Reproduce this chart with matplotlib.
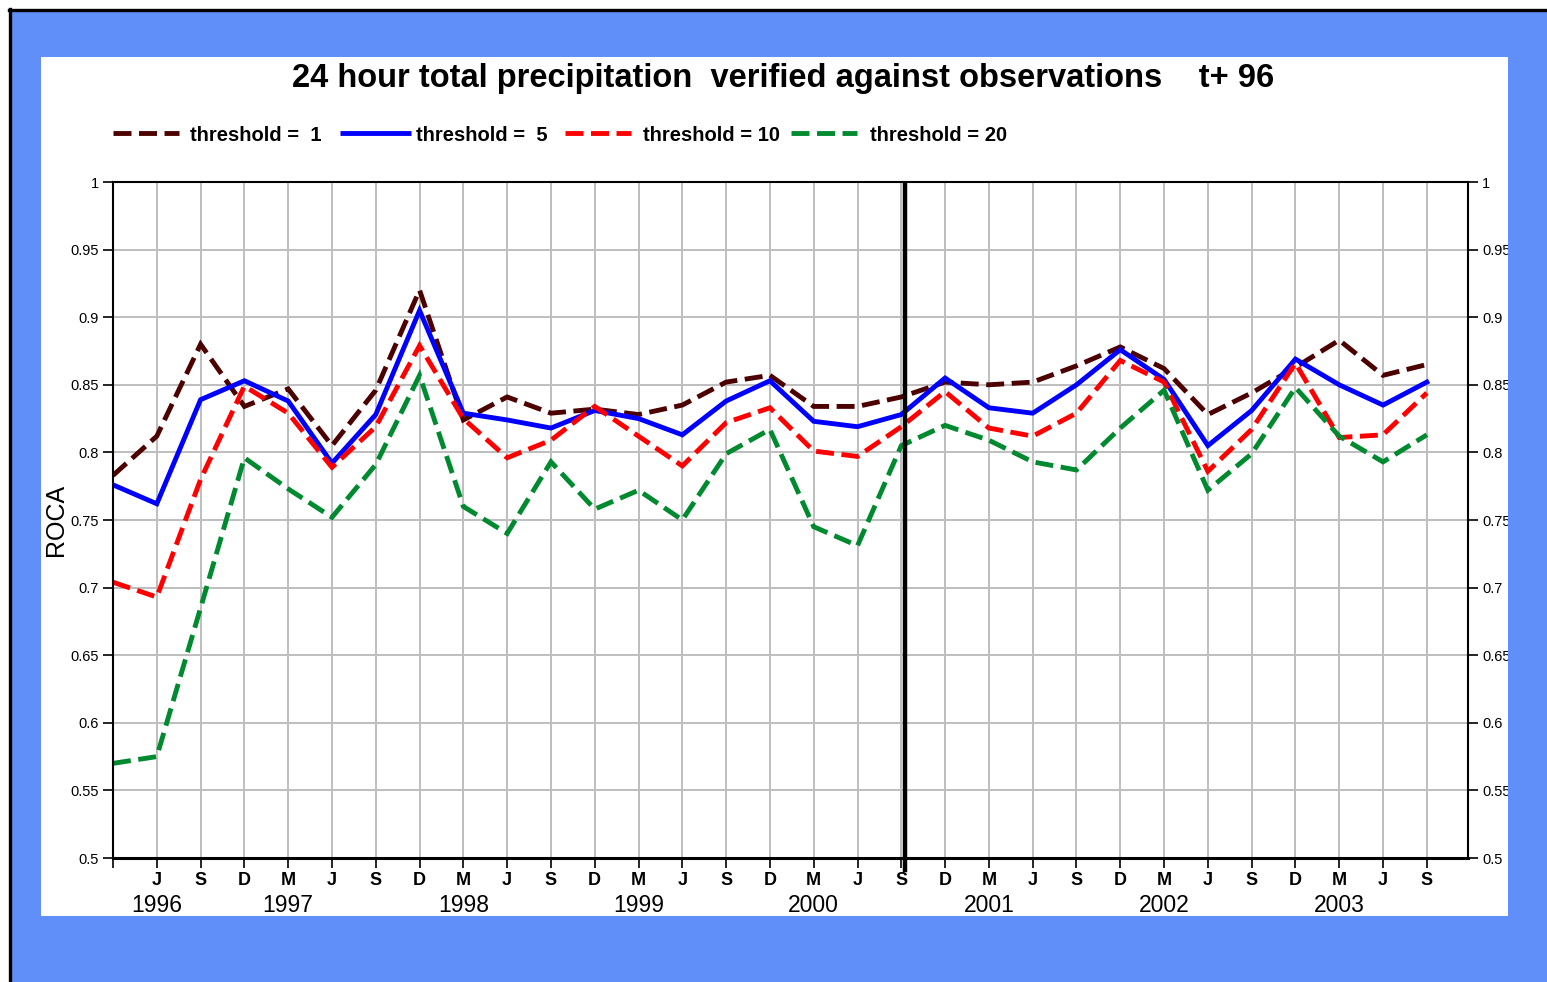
import matplotlib
matplotlib.use("Agg")
import matplotlib.pyplot as plt
from matplotlib.patches import Rectangle
from matplotlib.lines import Line2D
import matplotlib.transforms as mtransforms

plt.rcParams['font.family'] = ['Liberation Sans', 'DejaVu Sans']

# ---------------- data ----------------
month_labels = ['', 'J', 'S', 'D', 'M', 'J', 'S', 'D', 'M', 'J', 'S', 'D', 'M', 'J', 'S', 'D',
                'M', 'J', 'S', 'D', 'M', 'J', 'S', 'D', 'M', 'J', 'S', 'D', 'M', 'J', 'S']
year_labels = ['1996', '1997', '1998', '1999', '2000', '2001', '2002', '2003']
year_label_idx = [1, 4, 8, 12, 16, 20, 24, 28]

thr1 = [0.783, 0.812, 0.880, 0.834, 0.847, 0.805, 0.846, 0.920, 0.824, 0.841,
        0.829, 0.832, 0.828, 0.835, 0.852, 0.857, 0.834, 0.834, 0.841, 0.852,
        0.850, 0.852, 0.864, 0.878, 0.862, 0.828, 0.844, 0.863, 0.883, 0.857, 0.865]
thr5 = [0.776, 0.762, 0.839, 0.853, 0.838, 0.792, 0.828, 0.905, 0.829, 0.824,
        0.818, 0.831, 0.825, 0.813, 0.838, 0.853, 0.823, 0.819, 0.828, 0.855,
        0.833, 0.829, 0.850, 0.876, 0.854, 0.805, 0.831, 0.869, 0.850, 0.835, 0.852]
thr10 = [0.704, 0.693, 0.780, 0.849, 0.829, 0.789, 0.819, 0.879, 0.825, 0.796,
         0.809, 0.834, 0.812, 0.790, 0.822, 0.833, 0.801, 0.797, 0.819, 0.845,
         0.818, 0.812, 0.829, 0.868, 0.852, 0.786, 0.817, 0.866, 0.811, 0.813, 0.844]
thr20 = [0.570, 0.575, 0.685, 0.796, 0.773, 0.752, 0.791, 0.857, 0.760, 0.740,
         0.793, 0.758, 0.772, 0.750, 0.799, 0.817, 0.745, 0.731, 0.805, 0.820,
         0.809, 0.793, 0.787, 0.818, 0.846, 0.772, 0.799, 0.848, 0.812, 0.793, 0.813]
series = [thr1, thr5, thr10, thr20]
series_labels = ['threshold =  1', 'threshold =  5', 'threshold = 10', 'threshold = 20']
series_colors = ['#4D0000', '#0000FF', '#FF0000', '#008A30']
series_dashed = [True, False, True, True]
change_x = 18.08  # model change marker (vertical black line)

title = '24 hour total precipitation  verified against observations    t+ 96'

# ---------------- figure ----------------
W, H = 1547, 982
fig = plt.figure(figsize=(W / 100, H / 100), dpi=100)
fig.patch.set_facecolor('white')

BLUE = '#618FFA'
LW = 3.5
DASH = (3.7, 1.55)

def px_rect(x0, y0, x1, y1, **kw):
    return Rectangle((x0 / W, 1 - y1 / H), (x1 - x0) / W, (y1 - y0) / H,
                     transform=fig.transFigure, **kw)

fig.patches.append(px_rect(9, 9, W + 5, H + 5, facecolor=BLUE, edgecolor='none', zorder=-20))
fig.patches.append(px_rect(41, 57, 1508, 916, facecolor='white', edgecolor='none', zorder=-18))
# right blue strip covers overflowing right tick labels
fig.patches.append(px_rect(1508, 12, W + 5, H + 5, facecolor=BLUE, edgecolor='none', zorder=10))
fig.lines.append(Line2D([10 / W, 10 / W], [0, 1 - 9 / H], transform=fig.transFigure,
                        color='black', lw=2.4, zorder=11))
fig.lines.append(Line2D([9 / W, 1], [1 - 10 / H, 1 - 10 / H], transform=fig.transFigure,
                        color='black', lw=2.4, zorder=11))

ax = fig.add_axes([113 / W, 1 - 858 / H, (1468 - 113) / W, (858 - 182) / H])
ax.set_facecolor('white')

x = list(range(len(thr1)))
for ys, lab, col, dsh in zip(series, series_labels, series_colors, series_dashed):
    if dsh:
        ax.plot(x, ys, color=col, lw=LW, label=lab, dashes=DASH,
                dash_capstyle='butt', dash_joinstyle='miter')
    else:
        ax.plot(x, ys, color=col, lw=LW, label=lab, solid_joinstyle='miter')

ax.axvline(change_x, ymin=-0.018, ymax=0.996, color='black', lw=3.2, clip_on=False, zorder=5)

ax.set_xlim(0, 30.94)
ax.set_ylim(0.5, 1.0)
ax.set_xticks(range(len(month_labels)))
ax.set_xticklabels(month_labels, fontsize=13, fontweight='bold')
yt = [0.5, 0.55, 0.6, 0.65, 0.7, 0.75, 0.8, 0.85, 0.9, 0.95, 1.0]
ax.set_yticks(yt)
ax.set_yticklabels(['0.5', '0.55', '0.6', '0.65', '0.7', '0.75', '0.8', '0.85', '0.9', '0.95', '1'],
                   fontsize=10.5)
ax.grid(True, color='#BEBEBE', lw=1.4)
ax.set_axisbelow(True)
ax.tick_params(axis='y', direction='out', length=7, width=1.2, right=True, labelright=True,
               pad=3)
ax.tick_params(axis='x', direction='out', length=7, width=1.2, pad=3)
for s in ['left', 'right', 'top']:
    ax.spines[s].set_linewidth(1.5)
ax.spines['bottom'].set_linewidth(2.2)

ax.set_ylabel('ROCA', fontsize=18, labelpad=2)

trans = mtransforms.blended_transform_factory(ax.transData, fig.transFigure)
for lab, idx in zip(year_labels, year_label_idx):
    ax.text(idx, 1 - 906 / H, lab, transform=trans, ha='center', va='center', fontsize=16.5)

fig.text(783 / W, 1 - 79 / H, title, ha='center', va='center', fontsize=23.5, fontweight='bold')

# legend drawn manually to match the reference layout
leg_handle_px = [(113, 179), (340, 411), (565, 631), (791, 857)]
leg_text_px = [190, 416, 643, 870]
leg_y = 1 - 133 / H
for (hx0, hx1), tx, lab, col, dsh in zip(leg_handle_px, leg_text_px, series_labels,
                                         series_colors, series_dashed):
    kw = dict(dashes=DASH, dash_capstyle='butt') if dsh else dict(solid_capstyle='butt')
    fig.lines.append(Line2D([hx0 / W, hx1 / W], [leg_y, leg_y], transform=fig.transFigure,
                            color=col, lw=LW, **kw))
    fig.text(tx / W, leg_y - 2.5 / H, lab, ha='left', va='center', fontsize=14.5,
             fontweight='bold')

fig.savefig('out.png', dpi=100, facecolor=fig.get_facecolor())
